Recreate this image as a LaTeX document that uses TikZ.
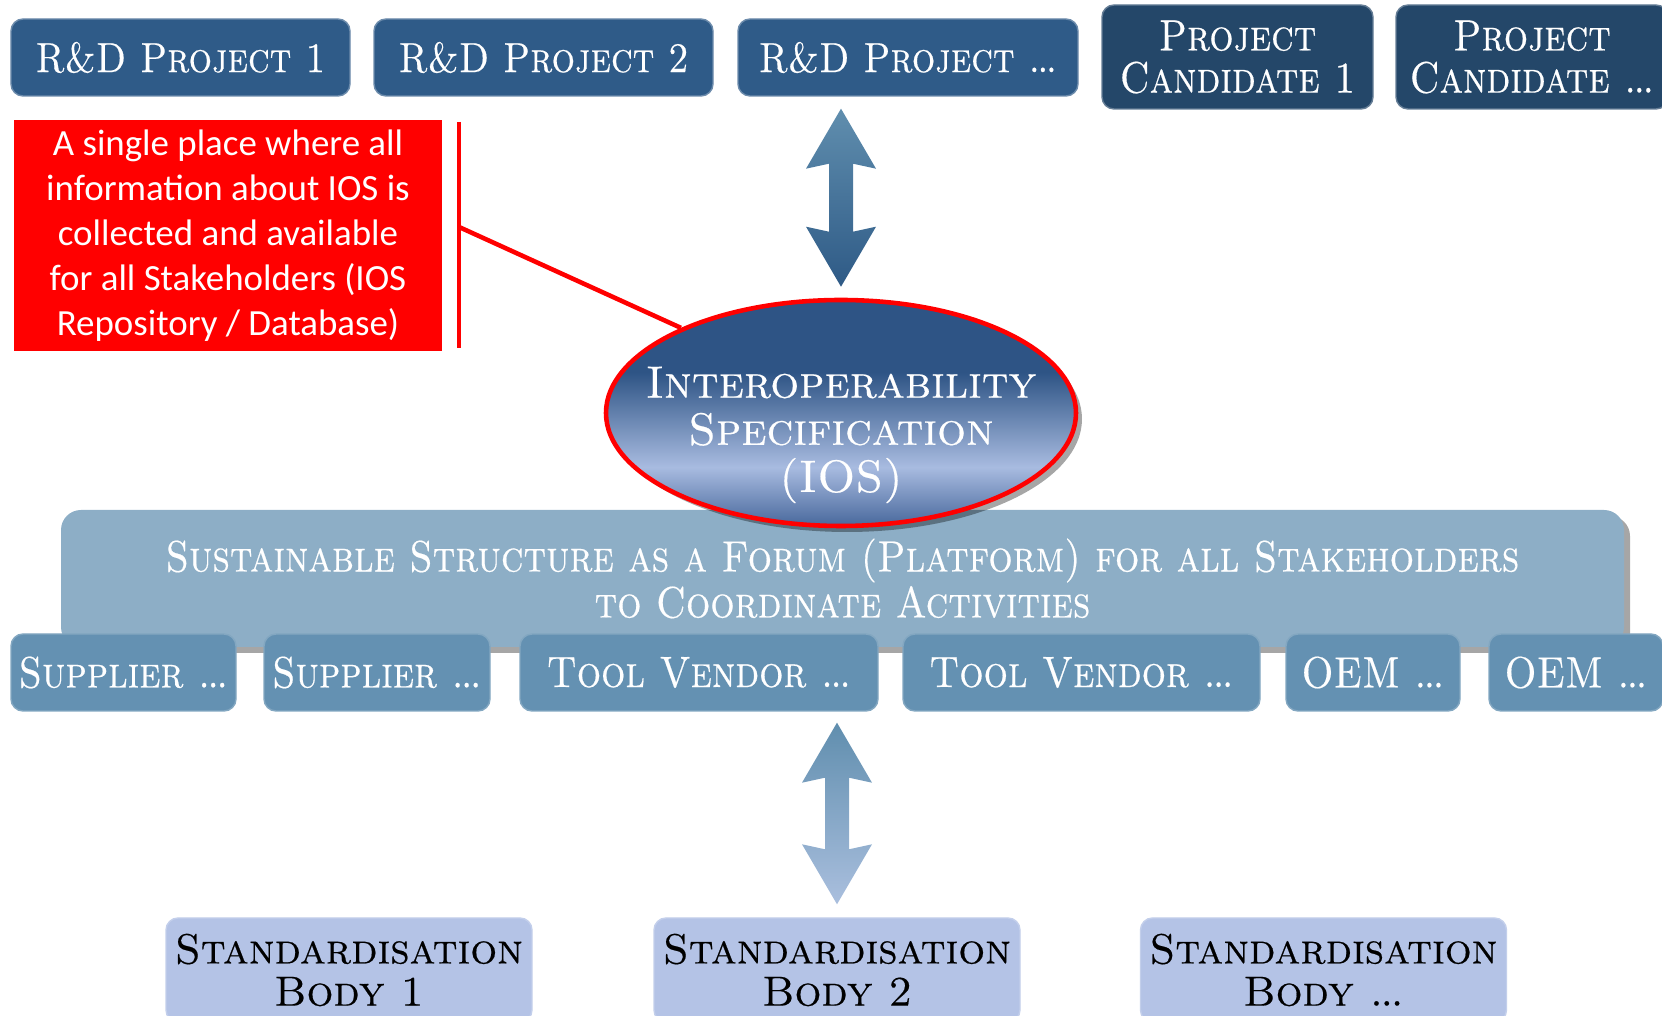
\documentclass[tikz,border=0pt]{standalone}
\usepackage{fontspec}
\usepackage{tikz}
\usetikzlibrary{shapes,shadows,calc}

\newfontfamily\capsfont[Extension=.otf,FakeStretch=0.87,FakeBold=0.4]{lmromancaps10-regular}
\newfontfamily\widecapsfont[Extension=.otf,FakeBold=0.4]{lmromancaps10-regular}
\newfontfamily\notefont{Carlito}
\newcommand{\etcdots}{.\kern-0.9pt.\kern-0.9pt.}

\definecolor{rdblue}{RGB}{47,91,136}
\definecolor{candblue}{RGB}{36,71,105}
\definecolor{forumblue}{RGB}{141,174,198}
\definecolor{stakeblue}{RGB}{100,145,178}
\definecolor{stdblue}{RGB}{180,195,230}
\definecolor{iostop}{RGB}{46,84,133}
\definecolor{ioslight}{RGB}{168,187,224}
\definecolor{iosbot}{RGB}{72,104,156}
\definecolor{arrowmid}{RGB}{96,142,174}
\definecolor{arrowdark}{RGB}{46,90,134}
\definecolor{arrowlight}{RGB}{170,191,222}

\pgfdeclareverticalshading{iosshade}{100bp}{color(0bp)=(iosbot); color(25bp)=(iosbot); color(38bp)=(ioslight); color(59bp)=(iostop); color(100bp)=(iostop)}

% thick double arrow from #1 (top) to #2 (bottom)
\newcommand{\fatarrow}[4]{%
  \shade[top color=#3, bottom color=#4]
    (#1) -- ($(#1)+(0.35,-0.60)$) -- ($(#1)+(0.12,-0.55)$)
    -- ($(#2)+(0.12,0.55)$) -- ($(#2)+(0.35,0.60)$) -- (#2)
    -- ($(#2)+(-0.35,0.60)$) -- ($(#2)+(-0.12,0.55)$)
    -- ($(#1)+(-0.12,-0.55)$) -- ($(#1)+(-0.35,-0.60)$) -- cycle;}

\tikzset{
  diagbox/.style={rounded corners=0.12cm, inner sep=0pt, align=center, font=\capsfont\fontsize{12.5}{12}\selectfont},
  topbox/.style={diagbox, fill=rdblue, draw=rdblue!70!white, text=white, font=\capsfont\fontsize{12}{12}\selectfont},
  candbox/.style={diagbox, fill=candblue, draw=candblue!70!white, text=white, minimum height=1.04cm},
  stakebox/.style={diagbox, fill=stakeblue, draw=stakeblue!80!white, text=white, minimum height=0.77cm},
  stdbox/.style={diagbox, fill=stdblue, draw=stdblue!80!white, text=black, minimum width=3.66cm, minimum height=1.04cm, font=\widecapsfont\fontsize{12}{12}\selectfont},
  redline/.style={red, line width=1.3pt},
  softshadow/.style={drop shadow={shadow xshift=0.06cm, shadow yshift=-0.06cm, opacity=0.35, fill=black}}
}

\begin{document}
\begin{tikzpicture}
\useasboundingbox (0,0) rectangle (16.62,10.16);

% projects
\node[topbox, minimum width=3.39cm, minimum height=0.77cm] (rdone) at (1.805,9.585) {R\&D Project 1};
\node[topbox, minimum width=3.39cm, minimum height=0.77cm] (rdtwo) at (5.435,9.585) {R\&D Project 2};
\node[topbox, minimum width=3.40cm, minimum height=0.77cm] (rdmore) at (9.08,9.585) {R\&D Project \etcdots};
\node[candbox, minimum width=2.71cm] (candone) at (12.375,9.59) {Project\\Candidate 1};
\node[candbox, minimum width=2.72cm] (candmore) at (15.32,9.59) {Project\\Candidate \etcdots};

% forum and stakeholders
\node[diagbox, fill=forumblue, rounded corners=0.2cm, minimum width=15.63cm, minimum height=1.37cm, text=white, softshadow, font=\capsfont\fontsize{12.5}{11.8}\selectfont] (forum) at (8.425,4.375) {Sustainable Structure as a Forum (Platform) for all Stakeholders\\to Coordinate Activities};

\node[stakebox, minimum width=2.25cm] (supone) at (1.235,3.435) {Supplier \etcdots};
\node[stakebox, minimum width=2.26cm] (suptwo) at (3.77,3.435) {Supplier \etcdots};
\node[stakebox, minimum width=3.58cm] (toolone) at (6.99,3.435) {Tool Vendor \etcdots};
\node[stakebox, minimum width=3.57cm] (tooltwo) at (10.815,3.435) {Tool Vendor \etcdots};
\node[stakebox, minimum width=1.74cm] (oemone) at (13.73,3.435) {OEM \etcdots};
\node[stakebox, minimum width=1.74cm] (oemtwo) at (15.76,3.435) {OEM \etcdots};

% standardisation bodies
\node[stdbox] (stdone) at (3.49,0.46) {Standardisation\\Body 1};
\node[stdbox] (stdtwo) at (8.37,0.46) {Standardisation\\Body 2};
\node[stdbox] (stdmore) at (13.235,0.46) {Standardisation\\Body \etcdots};

% the specification
\node[ellipse, minimum width=4.70cm, minimum height=2.26cm, inner sep=0pt, shade, shading=iosshade, draw=red, line width=1.3pt, softshadow] (ios) at (8.41,6.03) {};
\node[font=\widecapsfont\fontsize{12.9}{13.4}\selectfont, text=white, align=center] (iostext) at ($(ios.center)+(0,-0.22)$) {Interoperability\\Specification\\(IOS)};

% arrows
\coordinate (upa) at ($(ios.north |- rdmore.south)+(0,-0.12)$);
\coordinate (upb) at ($(ios.north)+(0,0.11)$);
\fatarrow{upa}{upb}{arrowmid}{arrowdark}

\coordinate (lowa) at ($(stdtwo.north |- toolone.south)+(0,-0.11)$);
\coordinate (lowb) at ($(stdtwo.north)+(0,0.13)$);
\fatarrow{lowa}{lowb}{arrowmid}{arrowlight}

% repository note
\node[fill=red, text=white, font=\notefont\fontsize{10.5}{12.8}\selectfont, align=center, minimum width=4.28cm, minimum height=2.31cm, inner sep=0pt] (note) at (2.28,7.805) {A single place where all\\information about IOS is\\collected and available\\for all Stakeholders (IOS\\Repository / Database)};
\coordinate (bartop) at (4.59,8.94);
\coordinate (barbot) at (4.59,6.68);
\coordinate (barjoin) at (4.59,7.89);
\draw[redline] (bartop) -- (barbot);
\draw[redline] (barjoin) -- (ios.152);

\end{tikzpicture}
\end{document}
